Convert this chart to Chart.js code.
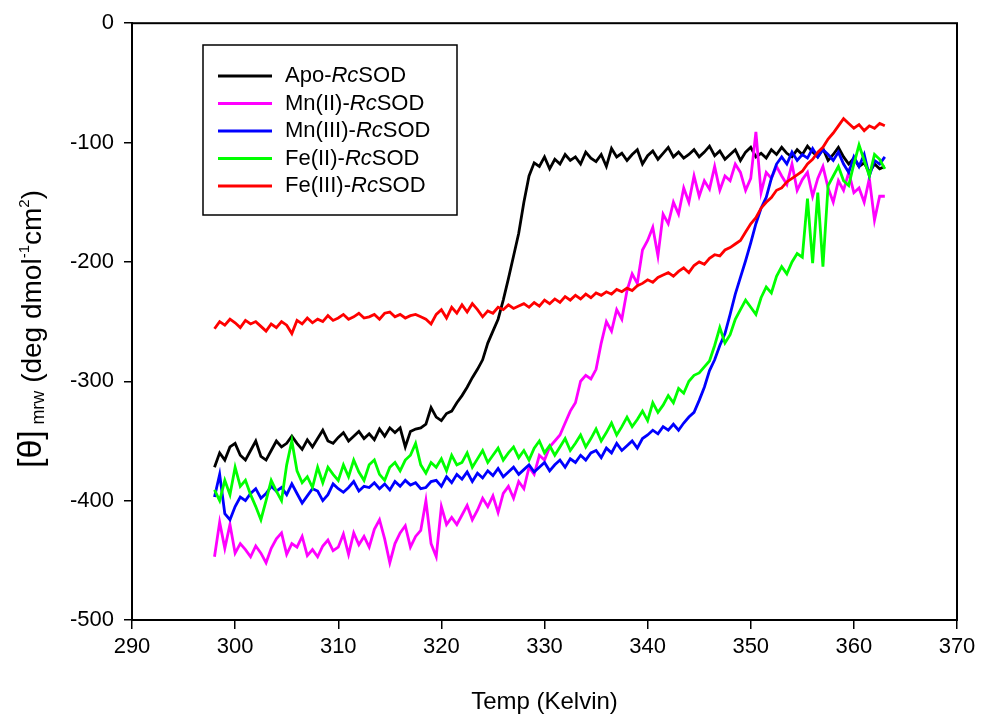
<!DOCTYPE html>
<html>
<head>
<meta charset="utf-8">
<script src="https://cdn.jsdelivr.net/npm/chart.js@4.4.1/dist/chart.umd.min.js"></script>
<style>
  body { margin: 0; background: #fff; }
</style>
</head>
<body>
<canvas id="cd-melt" width="983" height="714"></canvas>
<script>
// temperatures (K), shared by all five scans
const temps = [
  298, 298.5, 299, 299.5, 300, 300.5, 301, 301.5, 302, 302.5,
  303, 303.5, 304, 304.5, 305, 305.5, 306, 306.5, 307, 307.5,
  308, 308.5, 309, 309.5, 310, 310.5, 311, 311.5, 312, 312.5,
  313, 313.5, 314, 314.5, 315, 315.5, 316, 316.5, 317, 317.5,
  318, 318.5, 319, 319.5, 320, 320.5, 321, 321.5, 322, 322.5,
  323, 323.5, 324, 324.5, 325, 325.5, 326, 326.5, 327, 327.5,
  328, 328.5, 329, 329.5, 330, 330.5, 331, 331.5, 332, 332.5,
  333, 333.5, 334, 334.5, 335, 335.5, 336, 336.5, 337, 337.5,
  338, 338.5, 339, 339.5, 340, 340.5, 341, 341.5, 342, 342.5,
  343, 343.5, 344, 344.5, 345, 345.5, 346, 346.5, 347, 347.5,
  348, 348.5, 349, 349.5, 350, 350.5, 351, 351.5, 352, 352.5,
  353, 353.5, 354, 354.5, 355, 355.5, 356, 356.5, 357, 357.5,
  358, 358.5, 359, 359.5, 360, 360.5, 361, 361.5, 362, 362.5,
  363
];

const apo = [
  -372, -360, -366, -355, -352, -362, -366, -358, -350, -363,
  -366, -358, -350, -355, -352, -346, -352, -357, -349, -355,
  -348, -341, -350, -352, -347, -343, -350, -346, -342, -348,
  -344, -349, -340, -346, -339, -343, -339, -355, -342, -340,
  -339, -336, -322, -330, -333, -327, -325, -318, -312, -305,
  -297, -290, -282, -268, -258, -248, -232, -214, -195, -176,
  -150, -128, -117, -120, -112, -122, -114, -118, -110, -115,
  -112, -118, -108, -113, -116, -110, -120, -105, -112, -109,
  -115, -110, -106, -118, -111, -107, -114, -109, -104, -112,
  -108, -113, -110, -106, -112, -108, -103, -111, -107, -114,
  -110, -106, -115, -108, -104, -112, -109, -113, -106, -110,
  -104, -109, -112, -106, -110, -103, -108, -112, -105, -115,
  -110, -104, -112, -118, -113, -120, -117, -125, -118, -122,
  -120
];

const mn2 = [
  -447, -418, -440, -420, -444, -436, -441, -447, -438, -444,
  -452, -440, -432, -427, -445, -436, -439, -430, -446, -441,
  -447, -438, -433, -442, -439, -428, -445, -427, -437, -430,
  -439, -424, -416, -432, -452, -436, -427, -421, -439, -430,
  -425, -400, -436, -447, -405, -420, -414, -420, -412, -404,
  -416, -408, -398, -405, -396, -410, -394, -388, -398, -384,
  -390, -372, -378, -362, -366, -355, -350, -345, -335, -325,
  -318, -300, -295, -298, -290, -268, -250, -258, -240, -248,
  -224, -210, -218, -190, -182, -171, -195, -160, -168, -150,
  -160, -138, -150, -128, -145, -132, -139, -120, -140, -128,
  -132, -118, -125, -140, -130, -91, -142, -125, -130, -120,
  -128, -135, -118, -140, -131, -125, -145, -130, -120, -138,
  -150, -132, -140, -125, -142, -138, -150, -130, -165, -145,
  -145
];

const mn3 = [
  -397, -378, -411, -416, -405, -397, -400, -394, -390, -398,
  -394, -388, -392, -389, -395, -386, -394, -402, -396, -390,
  -392, -400, -395, -386, -390, -393, -389, -384, -392, -388,
  -389, -385, -390, -386, -391, -384, -388, -383, -387, -385,
  -390, -389, -384, -383, -388, -380, -385, -378, -382, -376,
  -384, -377, -381, -375, -379, -373, -380, -376, -372, -378,
  -374, -370, -376, -372, -368, -375, -370, -366, -372, -365,
  -368, -362, -366, -360, -358, -364, -356, -360, -352, -358,
  -354, -350, -356, -348, -345, -341, -344, -338, -341, -336,
  -341, -335, -330, -326, -316, -305, -291, -282, -270, -260,
  -244, -227, -213, -199, -184, -168, -155, -146, -130, -118,
  -112, -118, -108, -115, -110, -113, -105, -112, -106, -110,
  -115, -108, -118, -125, -112, -120, -110, -128, -115, -118,
  -112
];

const fe2 = [
  -391, -400, -383, -395, -372, -388, -383, -395, -405, -416,
  -400, -383, -392, -400, -370, -350, -375, -385, -380, -389,
  -372, -385, -372, -378, -383, -370, -380, -366, -376, -383,
  -370, -366, -378, -383, -372, -368, -375, -366, -362, -352,
  -370, -377, -368, -372, -365, -375, -362, -370, -368, -360,
  -372, -365, -358, -368, -362, -356, -366, -360, -355, -364,
  -358, -366, -356, -350, -360, -354, -362, -355, -348, -358,
  -352, -345, -355, -348, -340, -350, -343, -335, -345, -338,
  -330, -338, -332, -325, -333, -318, -326, -320, -312, -318,
  -306, -310, -300, -295, -293, -288, -283, -270, -255, -268,
  -261, -248, -240, -232, -238, -244, -230, -221, -226, -212,
  -204, -210, -200, -193, -196, -147, -201, -142, -204, -136,
  -128, -120, -132, -136, -118, -102, -115, -128, -110, -114,
  -122
];

const fe3 = [
  -256, -250, -253, -248, -251, -255, -249, -252, -250, -254,
  -258, -252, -255, -250, -253, -260, -249, -252, -247, -251,
  -248, -250, -245, -249, -247, -244, -248, -246, -243, -247,
  -246, -244, -248, -243, -242, -246, -244, -247, -245, -244,
  -246, -248, -252, -244, -240, -247, -238, -243, -236, -242,
  -235, -240, -246, -241, -243, -238, -240, -236, -239, -237,
  -235, -238, -234, -237, -232, -235, -231, -234, -229, -232,
  -228, -231, -227, -230, -226, -228, -225, -227, -223, -225,
  -222, -224, -220, -218, -215, -217, -213, -211, -209, -212,
  -208, -205, -209, -203, -200, -202, -197, -194, -195, -190,
  -188, -185, -182, -175, -168, -163, -155, -150, -146, -140,
  -138, -133, -130, -127, -124, -118, -114, -108, -104, -97,
  -92, -86, -80, -84, -88, -85, -90, -86, -88, -84,
  -86
];

const names = ['Apo-RcSOD', 'Mn(II)-RcSOD', 'Mn(III)-RcSOD', 'Fe(II)-RcSOD', 'Fe(III)-RcSOD'];
const colors = ['#000000', '#ff00ff', '#0000ff', '#00ff00', '#ff0000'];
const series = [apo, mn2, mn3, fe2, fe3];

const xTicks = [290, 300, 310, 320, 330, 340, 350, 360, 370];
const yTicks = [-500, -400, -300, -200, -100, 0];

const FONT = '"Liberation Sans", Arial, sans-serif';

function toPoints(values) {
  return temps.map((t, i) => ({ x: t, y: values[i] }));
}

// first dataset is painted last in chart.js, so reverse to keep red on top
const datasets = series.map((s, i) => ({
  label: names[i],
  data: toPoints(s),
  borderColor: colors[i],
  borderWidth: 2.8,
  pointRadius: 0,
  tension: 0,
  fill: false
})).reverse();

// box round the plot, hand drawn legend, axis titles
const extras = {
  id: 'extras',
  afterDraw(chart) {
    const ctx = chart.ctx;
    const a = chart.chartArea;
    ctx.save();
    ctx.strokeStyle = '#000';
    ctx.lineWidth = 2;
    ctx.strokeRect(a.left, a.top, a.right - a.left, a.bottom - a.top);

    // legend
    ctx.lineWidth = 1.5;
    ctx.strokeRect(203, 45, 254, 170);
    ctx.textBaseline = 'middle';
    names.forEach((name, i) => {
      const y = 76 + i * 27.5;
      ctx.strokeStyle = colors[i];
      ctx.lineWidth = 3;
      ctx.beginPath();
      ctx.moveTo(218, y);
      ctx.lineTo(272, y);
      ctx.stroke();
      const parts = name.split('Rc');
      let x = 285;
      ctx.fillStyle = '#000';
      ctx.font = '22px ' + FONT;
      ctx.fillText(parts[0], x, y);
      x += ctx.measureText(parts[0]).width;
      ctx.font = 'italic 22px ' + FONT;
      ctx.fillText('Rc', x, y);
      x += ctx.measureText('Rc').width;
      ctx.font = '22px ' + FONT;
      ctx.fillText(parts[1], x, y);
    });

    // x title
    ctx.fillStyle = '#000';
    ctx.font = '24px ' + FONT;
    ctx.textAlign = 'center';
    ctx.textBaseline = 'alphabetic';
    ctx.fillText('Temp (Kelvin)', (a.left + a.right) / 2, 709);

    // y title with sub and superscripts
    const pieces = [
      { t: '[\u03b8]', size: 34, dy: 0 },
      { t: ' ', size: 20, dy: 0 },
      { t: 'mrw', size: 18, dy: 3 },
      { t: ' (deg dmol', size: 28, dy: 0 },
      { t: '-1', size: 15, dy: -12 },
      { t: 'cm', size: 28, dy: 0 },
      { t: '2', size: 15, dy: -12 },
      { t: ')', size: 28, dy: 0 }
    ];
    let total = 0;
    pieces.forEach(p => {
      ctx.font = p.size + 'px ' + FONT;
      p.w = ctx.measureText(p.t).width;
      total += p.w;
    });
    ctx.translate(41, 329);
    ctx.rotate(-Math.PI / 2);
    ctx.textAlign = 'left';
    let px = -total / 2;
    pieces.forEach(p => {
      ctx.font = p.size + 'px ' + FONT;
      ctx.fillText(p.t, px, p.dy);
      px += p.w;
    });
    ctx.restore();
  }
};

new Chart(document.getElementById('cd-melt'), {
  type: 'line',
  data: { datasets: datasets },
  options: {
    responsive: false,
    animation: false,
    devicePixelRatio: 1,
    layout: { padding: { left: 0, right: 26, top: 22, bottom: 0 } },
    plugins: {
      legend: { display: false },
      tooltip: { enabled: false }
    },
    scales: {
      x: {
        type: 'linear',
        min: 290,
        max: 370,
        afterFit(scale) { scale.height = 94; },
        afterBuildTicks(scale) { scale.ticks = xTicks.map(v => ({ value: v })); },
        border: { display: true, color: '#000', width: 2 },
        grid: { drawOnChartArea: false, drawTicks: true, tickLength: 9, color: '#000', lineWidth: 1.5 },
        ticks: { color: '#000', font: { family: FONT, size: 22 }, padding: 5, maxRotation: 0 }
      },
      y: {
        type: 'linear',
        min: -500,
        max: 0,
        afterFit(scale) { scale.width = 132; },
        afterBuildTicks(scale) { scale.ticks = yTicks.map(v => ({ value: v })); },
        border: { display: true, color: '#000', width: 2 },
        grid: { drawOnChartArea: false, drawTicks: true, tickLength: 8, color: '#000', lineWidth: 1.5 },
        ticks: { color: '#000', font: { family: FONT, size: 22 }, padding: 10 }
      }
    }
  },
  plugins: [extras]
});
</script>
</body>
</html>
